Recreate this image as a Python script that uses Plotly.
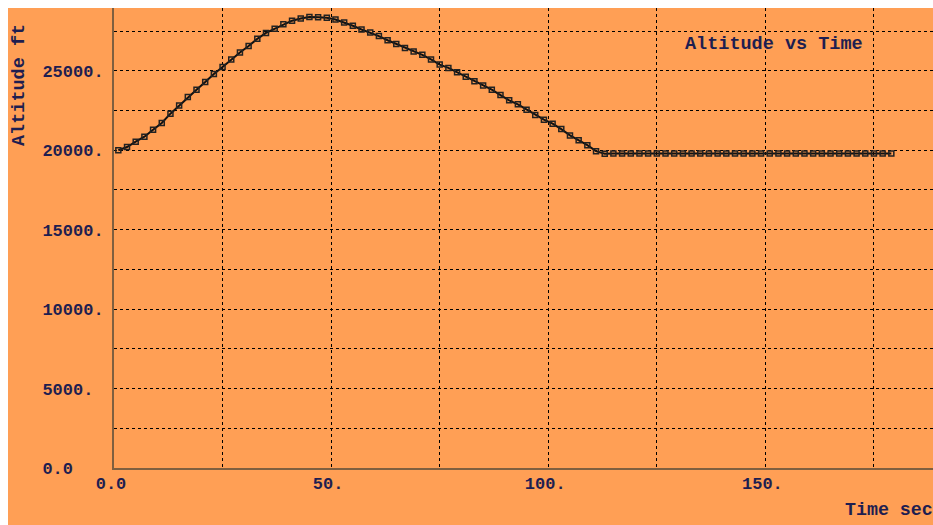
import plotly.graph_objects as go

# Data
time_sec = list(range(1, 181, 2))
altitude_ft = [
    20000, 20200, 20540, 20850, 21290, 21710, 22300, 22820, 23350, 23810,
    24290, 24800, 25240, 25710, 26150, 26560, 27010, 27380, 27640, 27930,
    28150, 28290, 28390, 28370, 28330, 28230, 28040, 27830, 27600, 27410,
    27180, 26920, 26690, 26440, 26210, 26000, 25710, 25390, 25180, 24900,
    24620, 24340, 24070, 23810, 23470, 23140, 22890, 22550, 22210, 21920,
    21670, 21330, 20930, 20620, 20320, 19940, 19780,
] + [19800] * 33

x_tick_vals = [0, 25, 50, 75, 100, 125, 150, 175]
x_tick_text = ["0.0", "", "50.", "", "100.", "", "150.", ""]
y_tick_vals = [0, 2500, 5000, 7500, 10000, 12500, 15000, 17500, 20000, 22500, 25000, 27500]
y_tick_raw = ["0.0", "", "5000.", "", "10000.", "", "15000.", "", "20000.", "", "25000.", ""]
y_tick_text = [t + "\u00a0" * (6 - len(t)) if t else "" for t in y_tick_raw]

ORANGE = "#FF9F55"
TEXT = "#1E1E50"
AXIS = "#7F5F3F"
FONT = "Liberation Mono"

W, H = 950, 540
L, R, T, B = 106, 20, 0, 80
pw, ph = W - L - R, H - T - B

def px(x):
    return (x - L) / pw

def py(y):
    return (H - B - y) / ph

fig = go.Figure()
fig.add_trace(go.Scatter(
    x=time_sec, y=altitude_ft, mode="lines+markers",
    line=dict(color="#111111", width=2),
    marker=dict(symbol="square-open", size=5, color="#222222", line=dict(width=1.5, color="#222222")),
    showlegend=False, hoverinfo="skip",
))

fig.update_layout(
    width=W, height=H,
    margin=dict(l=L, r=R, t=T, b=B, pad=0),
    paper_bgcolor=ORANGE, plot_bgcolor=ORANGE,
    font=dict(family=FONT, color=TEXT, size=17),
    xaxis=dict(
        range=[0, (W - R - L - 0.5) / 4.34], tickmode="array", tickvals=x_tick_vals, ticktext=x_tick_text,
        showgrid=True, gridcolor="#000000", gridwidth=1, griddash="3px,3px",
        showline=True, linecolor=AXIS, linewidth=2, zeroline=False,
        ticks="", ticklabelstandoff=-1, ticklabelshift=-3,
        tickfont=dict(family=FONT, size=17, color=TEXT, weight="bold"),
    ),
    yaxis=dict(
        range=[0, 28950], tickmode="array", tickvals=y_tick_vals, ticktext=y_tick_text,
        showgrid=True, gridcolor="#000000", gridwidth=1, griddash="3px,3px",
        showline=True, linecolor=AXIS, linewidth=2, zeroline=False,
        ticks="", ticklabelstandoff=5,
        tickfont=dict(family=FONT, size=17, color=TEXT, weight="bold"),
    ),
    annotations=[
        dict(text="<b>Altitude vs Time</b>", xref="paper", yref="paper", x=px(675), y=py(37),
             xanchor="left", yanchor="middle", showarrow=False,
             font=dict(family=FONT, size=18.5, color=TEXT)),
        dict(text="<b>Time sec</b>", xref="paper", yref="paper", x=px(835), y=py(502),
             xanchor="left", yanchor="middle", showarrow=False,
             font=dict(family=FONT, size=18.3, color=TEXT)),
        dict(text="<b>Altitude ft</b>", xref="paper", yref="paper", x=px(11), y=py(77),
             xanchor="center", yanchor="middle", showarrow=False, textangle=-90,
             font=dict(family=FONT, size=18.5, color=TEXT)),
    ],
)

fig.write_html(
    "out.html",
    post_script=(
        "document.documentElement.style.background='" + ORANGE + "';"
        "document.documentElement.style.overflow='hidden';"
        "var b=document.body;b.style.margin='0';b.style.overflow='hidden';"
        "b.style.borderTop='8px solid #ffffff';b.style.borderLeft='8px solid #ffffff';"
        "b.style.background='transparent';"
    ),
)
